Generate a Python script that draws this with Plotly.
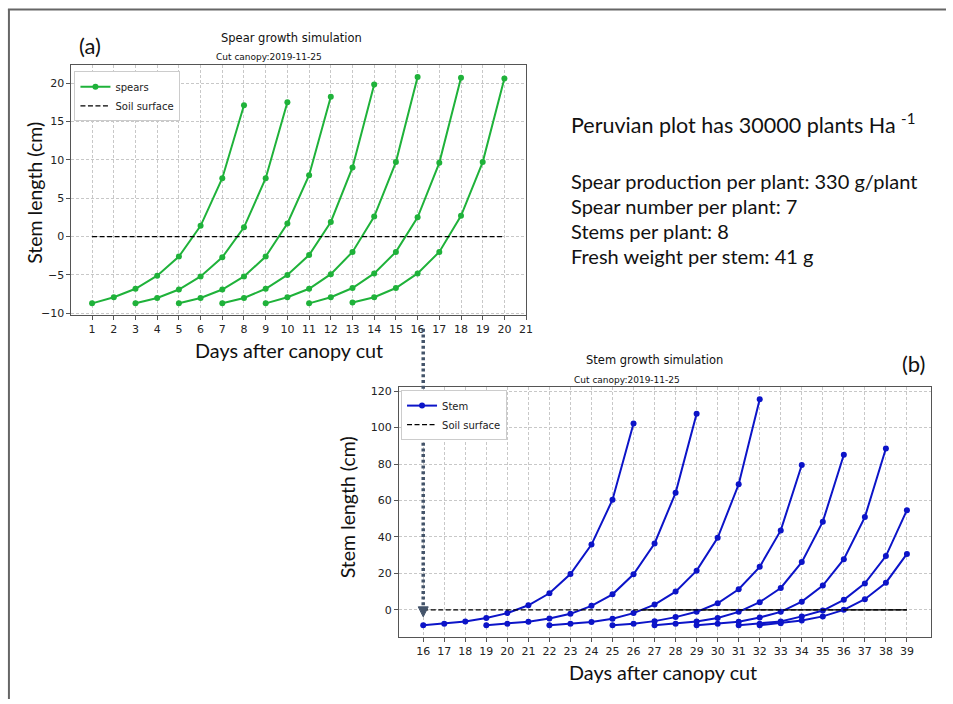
import plotly.graph_objects as go

W, H = 953, 704

# ---------------- data ----------------
# (a) Spear growth simulation: 7 spears, days after canopy cut vs stem length (cm)
spear_days = [
    [1, 2, 3, 4, 5, 6, 7, 8],
    [3, 4, 5, 6, 7, 8, 9, 10],
    [5, 6, 7, 8, 9, 10, 11, 12],
    [7, 8, 9, 10, 11, 12, 13, 14],
    [9, 10, 11, 12, 13, 14, 15, 16],
    [11, 12, 13, 14, 15, 16, 17, 18],
    [13, 14, 15, 16, 17, 18, 19, 20],
]
spear_len = [
    [-8.7, -7.9, -6.8, -5.1, -2.6, 1.4, 7.6, 17.1],
    [-8.7, -8.0, -6.9, -5.2, -2.7, 1.2, 7.6, 17.5],
    [-8.7, -8.0, -6.9, -5.2, -2.6, 1.7, 8.0, 18.2],
    [-8.7, -8.0, -6.8, -5.0, -2.4, 1.9, 9.0, 19.8],
    [-8.7, -7.9, -6.8, -4.9, -2.0, 2.6, 9.7, 20.8],
    [-8.7, -7.9, -6.7, -4.8, -2.0, 2.5, 9.6, 20.7],
    [-8.6, -7.9, -6.7, -4.8, -2.0, 2.7, 9.7, 20.6],
]
spear_soil_x = [1, 20]
spear_ticks = list(range(1, 22))

# (b) Stem growth simulation: 8 stems
stem_days = [
    list(range(16, 27)),
    list(range(19, 30)),
    list(range(22, 33)),
    list(range(25, 35)),
    list(range(27, 37)),
    list(range(29, 39)),
    list(range(31, 40)),
    list(range(32, 40)),
]
stem_len = [
    [-8.4, -7.6, -6.4, -4.5, -1.8, 2.5, 9.1, 19.6, 35.8, 60.4, 102.2],
    [-8.4, -7.6, -6.5, -4.7, -2.2, 2.2, 8.5, 19.5, 36.4, 64.2, 107.6],
    [-8.4, -7.6, -6.7, -4.9, -1.8, 2.9, 10.0, 21.5, 39.5, 68.9, 115.6],
    [-8.4, -7.6, -6.2, -4.0, -1.1, 3.6, 11.3, 23.6, 43.6, 79.5],
    [-8.4, -7.6, -6.4, -4.5, -1.1, 4.2, 12.0, 26.2, 48.4, 85.1],
    [-8.4, -7.6, -6.5, -4.2, -1.1, 4.5, 13.3, 27.8, 50.9, 88.5],
    [-8.4, -7.6, -6.4, -3.6, -0.4, 5.5, 14.5, 29.5, 54.7],
    [-8.4, -7.3, -5.8, -3.6, 0.0, 5.8, 14.9, 30.7],
]
stem_soil_x = [16, 39]
stem_soil_solid_x = [26.4, 39]
stem_ticks = list(range(16, 40))

info_title = "Peruvian plot has 30000 plants Ha <sup>-1</sup>"
info_lines = [
    "Spear production per plant: 330 g/plant",
    "Spear number per plant: 7",
    "Stems per plant: 8",
    "Fresh weight per stem: 41 g",
]

GREEN = "#1fb23a"
BLUE = "#0c14c8"
MPL = "DejaVu Sans"
PPT = "Lato"


def px(x):
    return x / W


def py(y):
    return 1 - y / H


fig = go.Figure()

# ---- (a) traces ----
for i, (xs, ys) in enumerate(zip(spear_days, spear_len)):
    fig.add_trace(go.Scatter(
        x=xs, y=ys, mode="lines+markers", name="spears",
        line=dict(color=GREEN, width=2), marker=dict(color=GREEN, size=6),
        showlegend=(i == 0), legend="legend", xaxis="x", yaxis="y"))
fig.add_trace(go.Scatter(
    x=spear_soil_x, y=[0, 0], mode="lines", name="Soil surface",
    line=dict(color="black", width=1.3, dash="5px,2.5px"),
    legend="legend", xaxis="x", yaxis="y"))

# ---- (b) traces ----
fig.add_trace(go.Scatter(
    x=stem_soil_solid_x, y=[0, 0], mode="lines", showlegend=False,
    line=dict(color="black", width=1.3), xaxis="x2", yaxis="y2"))
for i, (xs, ys) in enumerate(zip(stem_days, stem_len)):
    fig.add_trace(go.Scatter(
        x=xs, y=ys, mode="lines+markers", name="Stem",
        line=dict(color=BLUE, width=2), marker=dict(color=BLUE, size=6),
        showlegend=(i == 0), legend="legend2", xaxis="x2", yaxis="y2"))
fig.add_trace(go.Scatter(
    x=stem_soil_x, y=[0, 0], mode="lines", name="Soil surface",
    line=dict(color="black", width=1.3, dash="5px,2.5px"),
    legend="legend2", xaxis="x2", yaxis="y2"))

axis_common = dict(
    showgrid=True, gridcolor="#c8c8c8", griddash="3px,2px", gridwidth=0.8,
    showline=True, linecolor="#555555", linewidth=1, mirror=True,
    ticks="outside", ticklen=4, tickcolor="#555555",
    tickfont=dict(family=MPL, size=11, color="#222222"),
    zeroline=False,
)

legend_common = dict(
    xanchor="left", yanchor="top",
    bgcolor="white", bordercolor="#cccccc", borderwidth=1,
    font=dict(family=MPL, size=10, color="#222222"),
    tracegroupgap=0, itemwidth=30,
)

fig.update_layout(
    width=W, height=H, autosize=False,
    margin=dict(l=0, r=0, t=0, b=0),
    paper_bgcolor="white", plot_bgcolor="white",
    xaxis=dict(domain=[px(72), px(530)], range=[0.05, 21.0],
               tickmode="array", tickvals=spear_ticks, anchor="y", **axis_common),
    yaxis=dict(domain=[py(316), py(64)], range=[-10.2, 22.3],
               tickmode="array", tickvals=[-10, -5, 0, 5, 10, 15, 20], anchor="x", **axis_common),
    xaxis2=dict(domain=[px(402), px(938)], range=[14.85, 40.15],
                tickmode="array", tickvals=stem_ticks, anchor="y2", **axis_common),
    yaxis2=dict(domain=[py(641), py(389)], range=[-14.7, 122.2],
                tickmode="array", tickvals=[0, 20, 40, 60, 80, 100, 120], anchor="x2", **axis_common),
    legend=dict(x=px(75), y=py(70), **legend_common),
    legend2=dict(x=px(404), y=py(392), **legend_common),
)

ann = []


def txt(x, y, s, size, family, xanchor="center", angle=0, color="#111111"):
    ann.append(dict(x=px(x), y=py(y), xref="paper", yref="paper", text=s,
                    showarrow=False, xanchor=xanchor, yanchor="middle",
                    textangle=angle, font=dict(family=family, size=size, color=color)))


# (a) texts
txt(91, 44, "(a)", 22, PPT)
txt(294, 36, "Spear growth simulation", 11.5, MPL)
txt(271, 56, "Cut canopy:2019-11-25", 9, MPL)
txt(34, 193, "Stem length (cm)", 19.5, PPT, angle=-90)
txt(291, 351, "Days after canopy cut", 19.8, PPT)
# (b) texts
txt(659, 362, "Stem growth simulation", 11.5, MPL)
txt(632, 382, "Cut canopy:2019-11-25", 9, MPL)
txt(920, 365, "(b)", 22, PPT)
txt(350, 510, "Stem length (cm)", 19.5, PPT, angle=-90)
txt(668, 677, "Days after canopy cut", 19.8, PPT)
# info block
txt(573, 123, info_title, 21.5, PPT, xanchor="left")
for k, line in enumerate(info_lines):
    txt(573, 181 + k * 25.3, line, 20, PPT, xanchor="left")

fig.update_layout(annotations=ann)

ARROW = "#44546A"
shapes = [
    # figure border (top and left)
    dict(type="line", xref="paper", yref="paper", x0=px(8), x1=1, y0=py(7.5), y1=py(7.5),
         line=dict(color="#666666", width=2)),
    dict(type="line", xref="paper", yref="paper", x0=px(9), x1=px(9), y0=py(7), y1=0,
         line=dict(color="#666666", width=2)),
    # dotted arrow from day 16 of (a) down to the soil surface of (b)
    dict(type="line", xref="x2", yref="paper", x0=16, x1=16, y0=py(330), y1=py(610),
         line=dict(color=ARROW, width=3.5, dash="3px,2.7px")),
    dict(type="path", xref="x2", yref="y2", xsizemode="pixel", ysizemode="pixel",
         xanchor=16, yanchor=0, path="M -5,3 L 5,3 L 0,-7 Z",
         fillcolor=ARROW, line=dict(color=ARROW, width=1)),
]
fig.update_layout(shapes=shapes)

fig.write_html("out.html", config={"displayModeBar": False},
               post_script="document.body.style.margin='0px';")
